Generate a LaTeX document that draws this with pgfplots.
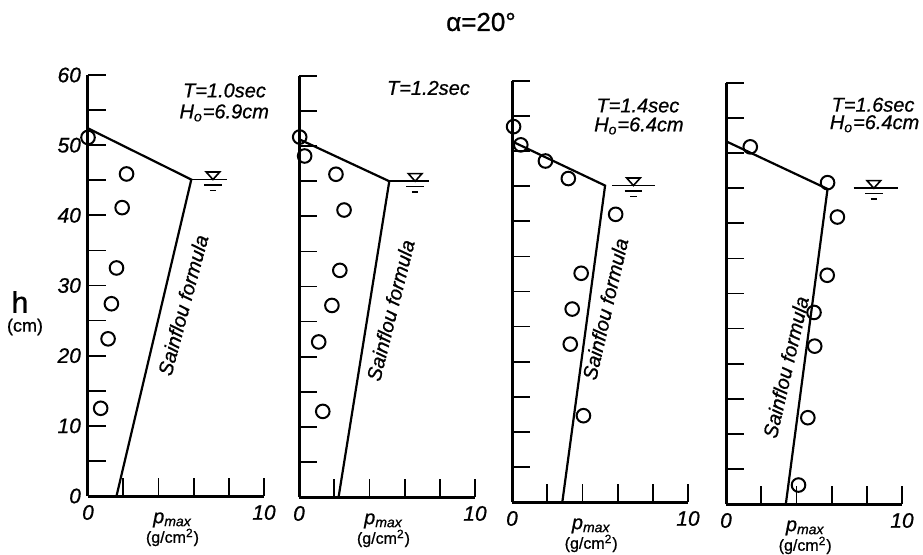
\documentclass[border=0pt]{standalone}
\usepackage{pgfplots}
\pgfplotsset{compat=1.18}
\usepackage{fontspec}
\setmainfont{Liberation Sans}[UprightFeatures={FakeBold=0.8}, ItalicFeatures={FakeBold=0.8}]

\newcommand{\water}[4]{%
  \draw[line width=0.9pt] (axis cs:#1,#4) -- (axis cs:#2,#4);
  \draw[line width=0.8pt] (axis cs:#3,#4) -- ++(-3.4pt,3.8pt) -- ++(6.8pt,0) -- cycle;
  \draw[line width=0.8pt] (axis cs:#3,#4) ++(-4.4pt,-2.6pt) -- ++(8.8pt,0);
  \draw[line width=0.8pt] (axis cs:#3,#4) ++(-1.6pt,-5.4pt) -- ++(3.2pt,0);
}

\pgfplotsset{
  panel/.style={
    scale only axis, width=88pt, height=210.5pt,
    xmin=0, xmax=10, ymin=0, ymax=60,
    axis x line*=bottom, axis y line*=left,
    axis line style={line width=1.5pt},
    xtick={0,2,...,10}, xticklabels={0,,,,,10},
    ytick={0,5,...,60}, yticklabels={},
    tick align=inside, major tick length=9pt,
    tick style={line width=0.9pt, black},
    tick label style={font=\fontsize{10.5}{12}\selectfont\itshape},
    /pgf/number format/assume math mode=true,
    xticklabel style={yshift=-1pt},
    clip=false,
  },
  sain/.style={black, line width=1.1pt, no marks},
  pts/.style={only marks, mark=o, mark size=3.4pt, mark options={line width=1pt, fill=white, draw=black}},
}
\tikzset{ann/.style={font=\fontsize{10}{12}\selectfont\itshape}}

\newcommand{\pmaxlabel}[1]{%
  \node[font=\fontsize{10}{12}\selectfont\itshape] at (axis cs:#1,-3.4) {p\textsubscript{max}};
  \node[font=\fontsize{8}{10}\selectfont] at (axis cs:#1,-5.9) {(g/cm\textsuperscript{2})};
}

\begin{document}
\begin{tikzpicture}
\path[use as bounding box] (0,0) rectangle (461.5pt,277pt);

% Panel 1
\begin{axis}[panel, at={(44pt,29pt)}, yticklabels={0,,10,,20,,30,,40,,50,,60}]
\addplot[sain] coordinates {(0,52.4) (5.87,45.1) (1.62,0)};
\addplot[pts] coordinates {(0,51.1) (2.19,45.9) (1.94,41.1) (1.62,32.5) (1.33,27.4) (1.14,22.4) (0.72,12.5)};
\water{5.87}{7.9}{7.1}{45.1}
\node[ann, anchor=west] at (axis cs:5.0,57.8) {T=1.0sec};
\node[ann, anchor=west] at (axis cs:4.8,54.6) {H\textsubscript{o}=6.9cm};
\node[ann, rotate=75] at (axis cs:5.4,27.2) {Sainflou formula};
\pmaxlabel{4.8}
\end{axis}

% Panel 2
\begin{axis}[panel, at={(149.5pt,28.5pt)}]
\addplot[sain] coordinates {(0,51.0) (5.13,45.0) (2.25,0)};
\addplot[pts] coordinates {(0.04,51.3) (0.32,48.6) (2.1,46.0) (2.56,40.9) (2.32,32.3) (1.87,27.3) (1.12,22.1) (1.35,12.2)};
\water{5.13}{7.4}{6.6}{45.0}
\node[ann, anchor=west] at (axis cs:4.6,58.3) {T=1.2sec};
\node[ann, rotate=76] at (axis cs:5.2,26.6) {Sainflou formula};
\pmaxlabel{4.8}
\end{axis}

% Panel 3
\begin{axis}[panel, at={(256pt,26pt)}]
\addplot[sain] coordinates {(0,51.4) (5.29,45.1) (2.86,0)};
\addplot[pts] coordinates {(0.09,53.5) (0.5,50.9) (1.9,48.6) (3.2,46.1) (5.89,41.0) (3.93,32.6) (3.42,27.5) (3.31,22.5) (4.06,12.3)};
\water{5.7}{8.13}{6.9}{45.1}
\node[ann, anchor=west] at (axis cs:4.4,56.5) {T=1.4sec};
\node[ann, anchor=west] at (axis cs:4.27,53.6) {H\textsubscript{o}=6.4cm};
\node[ann, rotate=77] at (axis cs:5.3,27.5) {Sainflou formula};
\pmaxlabel{4.5}
\end{axis}

% Panel 4
\begin{axis}[panel, at={(363pt,25pt)}]
\addplot[sain] coordinates {(0,51.7) (5.77,44.9) (3.4,0)};
\addplot[pts] coordinates {(1.38,50.9) (5.77,45.8) (6.33,40.9) (5.75,32.6) (5.0,27.3) (5.04,22.5) (4.65,12.3) (4.12,2.7)};
\water{7.25}{9.75}{8.4}{45.0}
\node[ann, anchor=west] at (axis cs:5.6,56.9) {T=1.6sec};
\node[ann, anchor=west] at (axis cs:5.5,54.2) {H\textsubscript{o}=6.4cm};
\node[ann, rotate=77] at (axis cs:3.4,19.5) {Sainflou formula};
\pmaxlabel{4.5}
\end{axis}

% Labels outside
\node[font=\fontsize{13}{15}\selectfont] at (240.5pt,266pt) {α=20°};
\node[font=\fontsize{15}{17}\selectfont] at (10pt,126pt) {h};
\node[font=\fontsize{9}{11}\selectfont] at (12.5pt,113.5pt) {(cm)};
\end{tikzpicture}
\end{document}
